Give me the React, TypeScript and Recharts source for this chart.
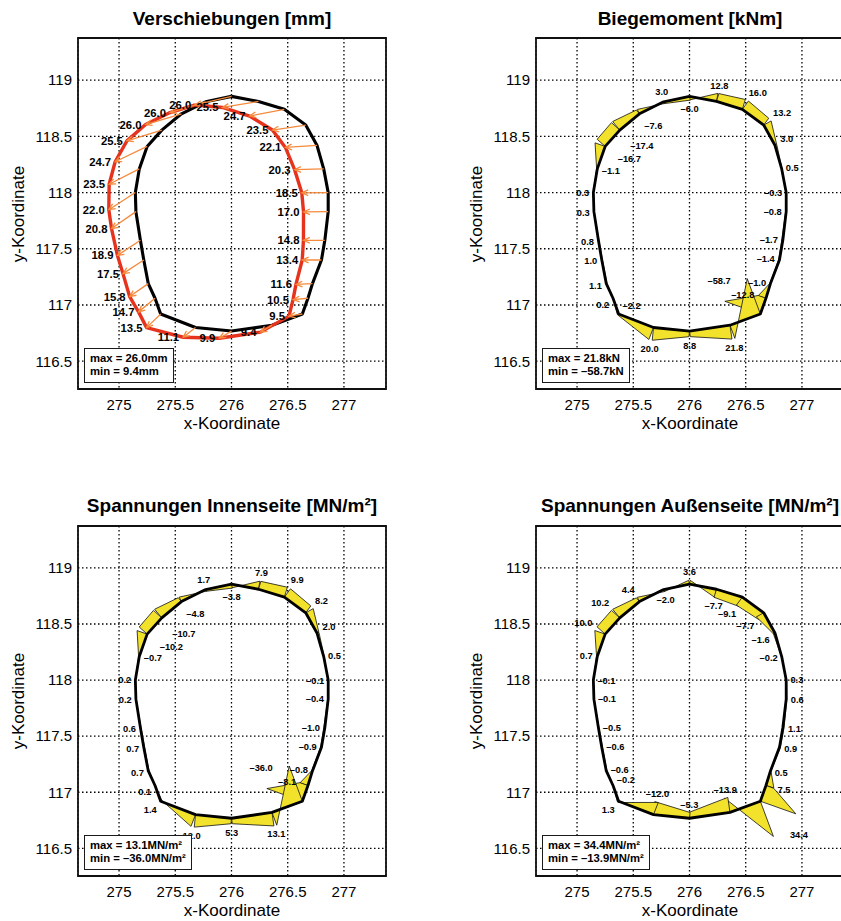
import React from 'react';
import { ScatterChart, Scatter, XAxis, YAxis, CartesianGrid, ReferenceArea } from 'recharts';

// ---------------- data ----------------
// lining nodes, clockwise from the crown: crown, right side (12), bottom (3), left side (12)
const nodeX = [276.0, 276.24, 276.47, 276.66, 276.76, 276.82, 276.86, 276.86, 276.83, 276.8, 276.72, 276.68, 276.63,
  276.36, 276.0, 275.68,
  275.37, 275.32, 275.26, 275.22, 275.19, 275.15, 275.145, 275.18, 275.25, 275.38, 275.555, 275.77];
const nodeY = [118.855, 118.81, 118.74, 118.6, 118.42, 118.21, 118.0, 117.83, 117.575, 117.4, 117.19, 117.06, 116.92,
  116.82, 116.768, 116.8,
  116.92, 117.06, 117.19, 117.4, 117.575, 117.83, 118.0, 118.21, 118.41, 118.555, 118.7, 118.807];

// displacement components [mm]
const dispX = [-25.3, -25.1, -24.2, -23.2, -22.0, -20.3, -18.4, -17.2, -14.9, -13.4, -11.5, -10.4, -9.3,
  -8.0, -8.5, -8.6,
  -9.8, -11.5, -13.0, -14.5, -16.0, -17.0, -18.5, -21.0, -22.3, -24.3, -25.0, -24.8];
const dispY = [-6.0, -4.2, -4.7, -3.5, -1.5, -0.5, -0.2, -0.2, 0, 0, -0.5, -1.0, -1.5,
  -4.8, -5.0, -6.8,
  -9.5, -9.5, -9.0, -9.5, -10.5, -11.8, -12.0, -10.7, -10.7, -7.5, -7.5, -7.5];
const dispLabels = [26.0, 25.5, 24.7, 23.5, 22.1, 20.3, 18.5, 17.0, 14.8, 13.4, 11.6, 10.5, 9.5,
  9.4, 9.9, 11.1,
  13.5, 14.7, 15.8, 17.5, 18.9, 20.8, 22.0, 23.5, 24.7, 25.5, 26.0, 26.0];

const momentValues = [-6.0, 12.8, 16.0, 13.2, 3.0, 0.5, -0.3, -0.8, -1.7, -1.4, -1.0, -12.8, -58.7,
  21.8, 8.8, 20.0,
  -2.2, 0.2, 1.1, 1.0, 0.8, 0.3, 0.3, -1.1, -16.7, -17.4, -7.6, 3.0];
const innerStress = [-3.8, 7.9, 9.9, 8.2, 2.0, 0.5, -0.1, -0.4, -1.0, -0.9, -0.8, -8.1, -36.0,
  13.1, 5.3, 12.0,
  1.4, 0.1, 0.7, 0.7, 0.6, 0.2, 0.2, -0.7, -10.2, -10.7, -4.8, 1.7];
const outerStress = [3.6, -7.7, -9.1, -7.7, -1.6, -0.2, 0.3, 0.6, 1.1, 0.9, 0.5, 7.5, 34.4,
  -13.9, -5.3, -12.0,
  1.3, -0.2, -0.6, -0.6, -0.5, -0.1, -0.1, 0.7, 10.0, 10.2, 4.4, -2.0];

const xTicks = [275, 275.5, 276, 276.5, 277];
const yTicks = [116.5, 117, 117.5, 118, 118.5, 119];
const xDomain = [274.635, 277.374];
const yDomain = [116.253, 119.374];

const plotTitles = ['Verschiebungen [mm]', 'Biegemoment [kNm]', 'Spannungen Innenseite [MN/m²]', 'Spannungen Außenseite [MN/m²]'];
const summaryMax = ['max = 26.0mm', 'max = 21.8kN', 'max = 13.1MN/m²', 'max = 34.4MN/m²'];
const summaryMin = ['min = 9.4mm', 'min = –58.7kN', 'min = –36.0MN/m²', 'min = –13.9MN/m²'];

// ---------------- helpers ----------------
const FONT = '"Liberation Sans", Arial, Helvetica, sans-serif';
const N = nodeX.length;
const DISP_SCALE = 0.01276; // plot units per mm
const LEFT_START = 16; // first node of left-hand chain

const unit = (a: number, b: number) => {
  const l = Math.hypot(a, b) || 1;
  return [a / l, b / l];
};
const elemNormal = (i: number) => {
  const j = (i + 1) % N;
  return unit(-(nodeY[j] - nodeY[i]), nodeX[j] - nodeX[i]);
};
const nodeNormal = (i: number) => {
  const a = elemNormal((i - 1 + N) % N);
  const b = elemNormal(i);
  return unit(a[0] + b[0], a[1] + b[1]);
};
const fmt = (v: number) => (v < 0 ? '–' : '') + Math.abs(v).toFixed(1);

const outlineData = [...nodeX.map((x, i) => ({ x, y: nodeY[i] })), { x: nodeX[0], y: nodeY[0] }];
const dispNodes = nodeX.map((x, i) => ({ x: x + dispX[i] * DISP_SCALE, y: nodeY[i] + dispY[i] * DISP_SCALE }));
const dispOutline = [...dispNodes, dispNodes[0]];
const arrowData = nodeX.flatMap((x, i) => [{ x, y: nodeY[i] }, dispNodes[i]]);
const dispLabelData = dispNodes.map((p, i) => ({ ...p, text: dispLabels[i].toFixed(1), anchor: 'end', off: 4, shift: -4 }));

function diagramQuads(values: number[], leftSign: number) {
  const s = 0.335 / Math.max(...values.map(Math.abs));
  const side = (i: number) => (i >= LEFT_START ? leftSign : 1);
  const pts: { x: number; y: number }[] = [];
  for (let i = 0; i < N; i++) {
    const j = (i + 1) % N;
    const n = elemNormal(i);
    const oi = side(i) * values[i] * s;
    const oj = side(j) * values[j] * s;
    pts.push(
      { x: nodeX[i], y: nodeY[i] },
      { x: nodeX[i] + n[0] * oi, y: nodeY[i] + n[1] * oi },
      { x: nodeX[j] + n[0] * oj, y: nodeY[j] + n[1] * oj },
      { x: nodeX[j], y: nodeY[j] },
    );
  }
  return pts;
}

function diagramLabels(values: number[]) {
  const s = 0.335 / Math.max(...values.map(Math.abs));
  return values.map((v, i) => {
    const n = nodeNormal(i);
    const sg = v < 0 ? -1 : 1;
    const d = Math.abs(v) * s + 0.035;
    const dx = n[0] * sg;
    const dy = n[1] * sg;
    const anchor = dx > 0.35 ? 'start' : dx < -0.35 ? 'end' : 'middle';
    const off = dy > 0.35 ? -1 : dy < -0.35 ? 8 : 3.5;
    return { x: nodeX[i] + dx * d, y: nodeY[i] + dy * d, text: fmt(v), anchor, off, shift: 0 };
  });
}

const noShape = () => <g />;

const renderQuads = (props: any) => {
  const pts = props.points || [];
  const out: React.ReactNode[] = [];
  for (let k = 0; k + 3 < pts.length; k += 4) {
    const p = pts.slice(k, k + 4).map((q: any) => `${q.x},${q.y}`).join(' ');
    out.push(<polygon key={k} points={p} fill="#f3e22b" stroke="#111" strokeWidth={0.8} strokeLinejoin="round" />);
  }
  return <g>{out}</g>;
};

const renderArrows = (props: any) => {
  const pts = props.points || [];
  const out: React.ReactNode[] = [];
  for (let k = 0; k + 1 < pts.length; k += 2) {
    const a = pts[k];
    const b = pts[k + 1];
    const ang = Math.atan2(b.y - a.y, b.x - a.x);
    const L = 7;
    const w = 0.42;
    const p1 = [b.x - L * Math.cos(ang - w), b.y - L * Math.sin(ang - w)];
    const p2 = [b.x - L * Math.cos(ang + w), b.y - L * Math.sin(ang + w)];
    out.push(
      <path key={k} d={`M${a.x},${a.y}L${b.x},${b.y}M${p1[0]},${p1[1]}L${b.x},${b.y}L${p2[0]},${p2[1]}`}
        stroke="#f58a3d" strokeWidth={1.3} fill="none" />,
    );
  }
  return <g>{out}</g>;
};

const labelShape = (size: number) => (props: any) => {
  const p = props.payload || props;
  return (
    <text x={props.cx + (p.shift || 0)} y={props.cy + p.off} textAnchor={p.anchor} fontSize={size}
      fontWeight="bold" fontFamily={FONT} fill="#000">{p.text}</text>
  );
};

// ---------------- layout ----------------
const CHART_W = 420;
const CHART_H = 460;
const panels = [
  { left: 0, top: 0, mt: 38, mb: 31 },
  { left: 458, top: 0, mt: 38, mb: 31 },
  { left: 0, top: 460, mt: 66, mb: 4 },
  { left: 458, top: 460, mt: 66, mb: 4 },
];

function Panel({ idx }: { idx: number }) {
  const pn = panels[idx];
  const plotLeft = pn.left + 78;
  const plotTop = pn.top + pn.mt;
  const plotBottom = pn.top + CHART_H - pn.mb - 40;
  const plotCy = (plotTop + plotBottom) / 2;

  let series: React.ReactNode[] = [];
  if (idx === 0) {
    series = [
      <Scatter key="o" data={outlineData} line={{ stroke: '#000', strokeWidth: 3.1, strokeLinejoin: 'round' }} shape={noShape} isAnimationActive={false} />,
      <Scatter key="d" data={dispOutline} line={{ stroke: '#e6331e', strokeWidth: 3.4, strokeLinejoin: 'round' }} shape={noShape} isAnimationActive={false} />,
      <Scatter key="a" data={arrowData} line={renderArrows} shape={noShape} isAnimationActive={false} />,
      <Scatter key="l" data={dispLabelData} shape={labelShape(11.3)} isAnimationActive={false} />,
    ];
  } else {
    const values = idx === 1 ? momentValues : idx === 2 ? innerStress : outerStress;
    const leftSign = idx === 3 ? 1 : -1;
    series = [
      <Scatter key="q" data={diagramQuads(values, leftSign)} line={renderQuads} shape={noShape} isAnimationActive={false} />,
      <Scatter key="o" data={outlineData} line={{ stroke: '#000', strokeWidth: 2.8, strokeLinejoin: 'round' }} shape={noShape} isAnimationActive={false} />,
      <Scatter key="l" data={diagramLabels(values)} shape={labelShape(9.3)} isAnimationActive={false} />,
    ];
  }

  return (
    <>
      <div style={{ position: 'absolute', left: pn.left, top: pn.top, width: CHART_W, height: CHART_H }}>
        <ScatterChart width={CHART_W} height={CHART_H} margin={{ top: pn.mt, right: 34, bottom: pn.mb, left: 18 }}>
          <CartesianGrid stroke="#000" strokeWidth={1.3} strokeDasharray="1.5 2.5" />
          <XAxis type="number" dataKey="x" domain={xDomain} ticks={xTicks} allowDataOverflow height={40}
            axisLine={false} tickLine={false} tickSize={6} tickMargin={4}
            tick={{ fill: '#000', fontSize: 15, fontFamily: FONT }} />
          <YAxis type="number" dataKey="y" domain={yDomain} ticks={yTicks} allowDataOverflow width={60}
            axisLine={false} tickLine={false} tickSize={4} tickMargin={2}
            tick={{ fill: '#000', fontSize: 15, fontFamily: FONT }} />
          {series}
          <ReferenceArea x1={xDomain[0]} x2={xDomain[1]} y1={yDomain[0]} y2={yDomain[1]} fill="none" fillOpacity={0}
            stroke="#111" strokeWidth={1.8} />
        </ScatterChart>
      </div>
      <div style={{ position: 'absolute', left: plotLeft - 60, width: 428, top: pn.top === 0 ? 8.4 : 494.7, textAlign: 'center',
        fontFamily: FONT, fontWeight: 'bold', fontSize: 19, lineHeight: '22px', whiteSpace: 'nowrap', color: '#000' }}>
        {plotTitles[idx]}
      </div>
      <div style={{ position: 'absolute', left: plotLeft, width: 308, top: plotBottom + 25, textAlign: 'center',
        fontFamily: FONT, fontSize: 17, lineHeight: '20px', color: '#000' }}>
        x-Koordinate
      </div>
      <div style={{ position: 'absolute', left: pn.left + 19 - 100, top: plotCy - 10, width: 200, height: 20, textAlign: 'center',
        fontFamily: FONT, fontSize: 17, lineHeight: '20px', color: '#000', transform: 'rotate(-90deg)' }}>
        y-Koordinate
      </div>
      <div style={{ position: 'absolute', left: plotLeft + 6, top: plotBottom - 41, border: '1.3px solid #1a1a1a', background: '#fff',
        padding: '3px 5px', fontFamily: FONT, fontWeight: 'bold', fontSize: 11.3, lineHeight: '13.3px', whiteSpace: 'nowrap', color: '#000' }}>
        <div>{summaryMax[idx]}</div>
        <div>{summaryMin[idx]}</div>
      </div>
    </>
  );
}

export default function App() {
  return (
    <div style={{ position: 'absolute', left: 0, top: 0, width: 841, height: 921, overflow: 'hidden', background: '#fff' }}>
      {[0, 1, 2, 3].map((i) => (
        <Panel key={i} idx={i} />
      ))}
    </div>
  );
}
